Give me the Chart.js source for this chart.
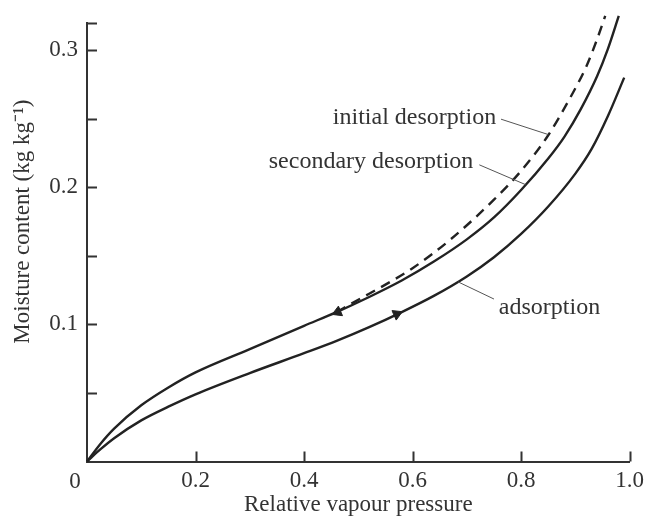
<!DOCTYPE html>
<html>
<head>
<meta charset="utf-8">
<script src="https://cdn.jsdelivr.net/npm/chart.js@4"></script>
<style>
  html, body { margin: 0; padding: 0; background: #fff; }
  #wrap { width: 650px; height: 521px; position: relative; }
</style>
</head>
<body>
<div id="wrap"><canvas id="chart"></canvas></div>
<script>
// curves (relative vapour pressure -> moisture content)
const adsorptionX = [0, 0.025, 0.05, 0.1, 0.15, 0.2, 0.3, 0.4, 0.46, 0.52, 0.58, 0.64, 0.7, 0.75, 0.8, 0.85, 0.9, 0.93, 0.96, 0.99];
const adsorptionY = [0, 0.009, 0.017, 0.030, 0.040, 0.049, 0.0645, 0.079, 0.088, 0.098, 0.109, 0.121, 0.135, 0.149, 0.166, 0.186, 0.210, 0.228, 0.252, 0.280];

const secondaryX = [0, 0.025, 0.05, 0.1, 0.15, 0.2, 0.3, 0.4, 0.46, 0.52, 0.58, 0.64, 0.7, 0.75, 0.8, 0.85, 0.88, 0.91, 0.94, 0.96, 0.98];
const secondaryY = [0, 0.013, 0.024, 0.041, 0.054, 0.065, 0.082, 0.099, 0.109, 0.120, 0.132, 0.146, 0.162, 0.178, 0.198, 0.221, 0.237, 0.257, 0.281, 0.301, 0.325];

const initialX = [0.46, 0.5, 0.55, 0.6, 0.67, 0.75, 0.8, 0.85, 0.89, 0.92, 0.94, 0.955];
const initialY = [0.109, 0.118, 0.129, 0.141, 0.162, 0.191, 0.212, 0.238, 0.265, 0.288, 0.308, 0.325];

// direction arrows on the curves
const arrowX = [0.462, 0.571];
const arrowY = [0.109, 0.1075];
const arrowTurn = [247, 66];

// tick labels
const xTickLabels = {0.2: '0.2', 0.4: '0.4', 0.6: '0.6', 0.8: '0.8', 1: '1.0'};
const yTickLabels = {0.1: '0.1', 0.2: '0.2', 0.3: '0.3'};
const originLabel = '0';
const yTitle = 'Moisture content (kg kg\u207B\u00B9)';

// curve labels: text, anchor, align, leader line from -> to
const labelText = ['initial desorption', 'secondary desorption', 'adsorption'];
const labelAt = [[0.754, 0.251], [0.712, 0.2185], [0.759, 0.1122]];
const labelAlign = ['right', 'right', 'left'];
const leaderFrom = [[0.763, 0.2497], [0.723, 0.2164], [0.750, 0.1185]];
const leaderTo = [[0.850, 0.2385], [0.808, 0.2020], [0.684, 0.1310]];

const serif = '"Liberation Serif", "Times New Roman", serif';
const ink = '#222';

function pts(xs, ys) {
    return xs.map((x, i) => ({x: x, y: ys[i]}));
}

const lineStyle = {
    showLine: true,
    pointRadius: 0,
    borderColor: ink,
    borderWidth: 2.4,
    cubicInterpolationMode: 'monotone',
    clip: false,
};

// ticks drawn inward, origin label, y title, curve labels
const extras = {
    id: 'extras',
    afterDraw(chart) {
        const {ctx, scales: {x, y}} = chart;
        const tl = 10;
        ctx.save();
        ctx.strokeStyle = '#333';
        ctx.lineWidth = 2;
        ctx.beginPath();
        y.ticks.forEach(t => {
            if (t.value === 0) return;
            const py = Math.round(y.getPixelForValue(t.value)) + 0.5;
            ctx.moveTo(x.left, py);
            ctx.lineTo(x.left + tl, py);
        });
        x.ticks.forEach(t => {
            if (t.value === 0) return;
            const px = Math.round(x.getPixelForValue(t.value)) + 0.5;
            ctx.moveTo(px, y.bottom);
            ctx.lineTo(px, y.bottom - tl);
        });
        ctx.stroke();

        ctx.strokeStyle = '#555';
        ctx.lineWidth = 1;
        ctx.beginPath();
        leaderFrom.forEach((f, i) => {
            ctx.moveTo(x.getPixelForValue(f[0]), y.getPixelForValue(f[1]));
            ctx.lineTo(x.getPixelForValue(leaderTo[i][0]), y.getPixelForValue(leaderTo[i][1]));
        });
        ctx.stroke();

        ctx.fillStyle = '#333';
        ctx.font = '24px ' + serif;
        ctx.textBaseline = 'middle';
        labelText.forEach((txt, i) => {
            ctx.textAlign = labelAlign[i];
            ctx.fillText(txt, x.getPixelForValue(labelAt[i][0]), y.getPixelForValue(labelAt[i][1]));
        });

        ctx.font = '23px ' + serif;
        ctx.textAlign = 'center';
        ctx.fillText(originLabel, x.left - 12, y.bottom + 20);

        ctx.translate(23, y.getPixelForValue(0.175));
        ctx.rotate(-Math.PI / 2);
        ctx.fillText(yTitle, 0, 0);
        ctx.restore();
    }
};

new Chart(document.getElementById('chart').getContext('2d'), {
    type: 'scatter',
    data: {
        datasets: [
            Object.assign({label: 'adsorption', data: pts(adsorptionX, adsorptionY)}, lineStyle),
            Object.assign({label: 'secondary desorption', data: pts(secondaryX, secondaryY)}, lineStyle),
            Object.assign({label: 'initial desorption', data: pts(initialX, initialY), borderDash: [10, 7]}, lineStyle),
            {
                label: 'arrows',
                data: pts(arrowX, arrowY),
                pointStyle: 'triangle',
                pointRadius: 6,
                rotation: arrowTurn,
                backgroundColor: ink,
                borderColor: ink,
                borderWidth: 1,
                showLine: false,
            },
        ]
    },
    options: {
        responsive: true,
        maintainAspectRatio: false,
        animation: false,
        layout: {padding: {top: 20, right: 15, left: 0, bottom: 0}},
        plugins: {
            legend: {display: false},
            tooltip: {enabled: false},
        },
        scales: {
            x: {
                type: 'linear',
                min: 0,
                max: 1,
                afterFit: s => { s.height = 59.5; },
                grid: {display: true, drawOnChartArea: false, drawTicks: false},
                border: {display: true, color: '#333', width: 2},
                ticks: {
                    stepSize: 0.2,
                    padding: 6,
                    color: '#333',
                    font: {family: serif, size: 23},
                    maxRotation: 0,
                    callback: v => xTickLabels[Math.round(v * 10) / 10] ?? '',
                },
                title: {
                    display: true,
                    text: 'Relative vapour pressure',
                    color: '#333',
                    font: {family: serif, size: 23},
                    padding: {top: 0, bottom: 2},
                },
            },
            y: {
                type: 'linear',
                min: 0,
                max: 0.32,
                afterFit: s => { s.width = 87; },
                grid: {display: true, drawOnChartArea: false, drawTicks: false},
                border: {display: true, color: '#333', width: 2},
                ticks: {
                    stepSize: 0.05,
                    padding: 9,
                    color: '#333',
                    font: {family: serif, size: 23},
                    callback: v => yTickLabels[Math.round(v * 100) / 100] ?? '',
                },
            },
        },
    },
    plugins: [extras],
});
</script>
</body>
</html>
